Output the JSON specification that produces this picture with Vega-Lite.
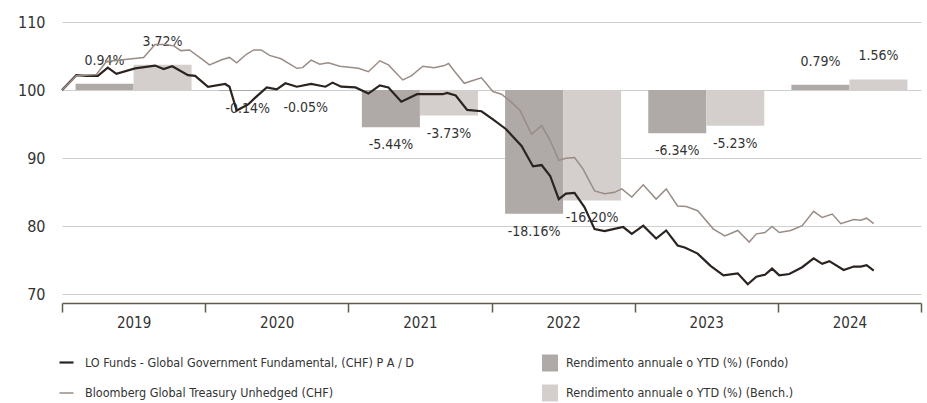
{
  "$schema": "https://vega.github.io/schema/vega-lite/v6.json",
  "width": 859,
  "height": 281,
  "autosize": {"type": "none"},
  "padding": {"left": 62, "top": 22, "right": 6, "bottom": 100},
  "background": "white",
  "config": {"view": {"stroke": null}, "font": "DejaVu Sans Condensed, Liberation Sans, sans-serif"},
  "datasets": {
    "bars": [
      {"year": "2019", "series": "Rendimento annuale o YTD (%) (Fondo)", "ret": 0.94, "label": "0.94%"},
      {"year": "2019", "series": "Rendimento annuale o YTD (%) (Bench.)", "ret": 3.72, "label": "3.72%"},
      {"year": "2020", "series": "Rendimento annuale o YTD (%) (Fondo)", "ret": -0.14, "label": "-0.14%"},
      {"year": "2020", "series": "Rendimento annuale o YTD (%) (Bench.)", "ret": -0.05, "label": "-0.05%"},
      {"year": "2021", "series": "Rendimento annuale o YTD (%) (Fondo)", "ret": -5.44, "label": "-5.44%"},
      {"year": "2021", "series": "Rendimento annuale o YTD (%) (Bench.)", "ret": -3.73, "label": "-3.73%"},
      {"year": "2022", "series": "Rendimento annuale o YTD (%) (Fondo)", "ret": -18.16, "label": "-18.16%"},
      {"year": "2022", "series": "Rendimento annuale o YTD (%) (Bench.)", "ret": -16.2, "label": "-16.20%"},
      {"year": "2023", "series": "Rendimento annuale o YTD (%) (Fondo)", "ret": -6.34, "label": "-6.34%"},
      {"year": "2023", "series": "Rendimento annuale o YTD (%) (Bench.)", "ret": -5.23, "label": "-5.23%"},
      {"year": "2024", "series": "Rendimento annuale o YTD (%) (Fondo)", "ret": 0.79, "label": "0.79%"},
      {"year": "2024", "series": "Rendimento annuale o YTD (%) (Bench.)", "ret": 1.56, "label": "1.56%"}
    ],
    "lines": [
      {"s": "LO Funds - Global Government Fundamental, (CHF) P A / D", "t": 2019.00, "v": 100.0},
      {"s": "LO Funds - Global Government Fundamental, (CHF) P A / D", "t": 2019.10, "v": 102.2},
      {"s": "LO Funds - Global Government Fundamental, (CHF) P A / D", "t": 2019.17, "v": 102.1},
      {"s": "LO Funds - Global Government Fundamental, (CHF) P A / D", "t": 2019.25, "v": 102.1},
      {"s": "LO Funds - Global Government Fundamental, (CHF) P A / D", "t": 2019.32, "v": 103.3},
      {"s": "LO Funds - Global Government Fundamental, (CHF) P A / D", "t": 2019.38, "v": 102.4},
      {"s": "LO Funds - Global Government Fundamental, (CHF) P A / D", "t": 2019.51, "v": 103.2},
      {"s": "LO Funds - Global Government Fundamental, (CHF) P A / D", "t": 2019.65, "v": 103.6},
      {"s": "LO Funds - Global Government Fundamental, (CHF) P A / D", "t": 2019.71, "v": 103.1},
      {"s": "LO Funds - Global Government Fundamental, (CHF) P A / D", "t": 2019.77, "v": 103.5},
      {"s": "LO Funds - Global Government Fundamental, (CHF) P A / D", "t": 2019.88, "v": 102.2},
      {"s": "LO Funds - Global Government Fundamental, (CHF) P A / D", "t": 2019.93, "v": 102.1},
      {"s": "LO Funds - Global Government Fundamental, (CHF) P A / D", "t": 2020.02, "v": 100.5},
      {"s": "LO Funds - Global Government Fundamental, (CHF) P A / D", "t": 2020.14, "v": 100.9},
      {"s": "LO Funds - Global Government Fundamental, (CHF) P A / D", "t": 2020.17, "v": 100.5},
      {"s": "LO Funds - Global Government Fundamental, (CHF) P A / D", "t": 2020.22, "v": 97.0},
      {"s": "LO Funds - Global Government Fundamental, (CHF) P A / D", "t": 2020.30, "v": 97.9},
      {"s": "LO Funds - Global Government Fundamental, (CHF) P A / D", "t": 2020.35, "v": 98.9},
      {"s": "LO Funds - Global Government Fundamental, (CHF) P A / D", "t": 2020.43, "v": 100.4},
      {"s": "LO Funds - Global Government Fundamental, (CHF) P A / D", "t": 2020.50, "v": 100.1},
      {"s": "LO Funds - Global Government Fundamental, (CHF) P A / D", "t": 2020.56, "v": 101.0},
      {"s": "LO Funds - Global Government Fundamental, (CHF) P A / D", "t": 2020.64, "v": 100.5},
      {"s": "LO Funds - Global Government Fundamental, (CHF) P A / D", "t": 2020.74, "v": 100.9},
      {"s": "LO Funds - Global Government Fundamental, (CHF) P A / D", "t": 2020.84, "v": 100.5},
      {"s": "LO Funds - Global Government Fundamental, (CHF) P A / D", "t": 2020.89, "v": 101.1},
      {"s": "LO Funds - Global Government Fundamental, (CHF) P A / D", "t": 2020.95, "v": 100.5},
      {"s": "LO Funds - Global Government Fundamental, (CHF) P A / D", "t": 2021.05, "v": 100.4},
      {"s": "LO Funds - Global Government Fundamental, (CHF) P A / D", "t": 2021.14, "v": 99.5},
      {"s": "LO Funds - Global Government Fundamental, (CHF) P A / D", "t": 2021.22, "v": 100.7},
      {"s": "LO Funds - Global Government Fundamental, (CHF) P A / D", "t": 2021.28, "v": 100.4},
      {"s": "LO Funds - Global Government Fundamental, (CHF) P A / D", "t": 2021.37, "v": 98.3},
      {"s": "LO Funds - Global Government Fundamental, (CHF) P A / D", "t": 2021.48, "v": 99.4},
      {"s": "LO Funds - Global Government Fundamental, (CHF) P A / D", "t": 2021.58, "v": 99.4},
      {"s": "LO Funds - Global Government Fundamental, (CHF) P A / D", "t": 2021.66, "v": 99.4},
      {"s": "LO Funds - Global Government Fundamental, (CHF) P A / D", "t": 2021.69, "v": 99.6},
      {"s": "LO Funds - Global Government Fundamental, (CHF) P A / D", "t": 2021.75, "v": 99.2},
      {"s": "LO Funds - Global Government Fundamental, (CHF) P A / D", "t": 2021.83, "v": 97.1},
      {"s": "LO Funds - Global Government Fundamental, (CHF) P A / D", "t": 2021.93, "v": 96.9},
      {"s": "LO Funds - Global Government Fundamental, (CHF) P A / D", "t": 2022.01, "v": 95.7},
      {"s": "LO Funds - Global Government Fundamental, (CHF) P A / D", "t": 2022.10, "v": 94.3},
      {"s": "LO Funds - Global Government Fundamental, (CHF) P A / D", "t": 2022.21, "v": 91.8},
      {"s": "LO Funds - Global Government Fundamental, (CHF) P A / D", "t": 2022.29, "v": 88.8},
      {"s": "LO Funds - Global Government Fundamental, (CHF) P A / D", "t": 2022.35, "v": 89.0},
      {"s": "LO Funds - Global Government Fundamental, (CHF) P A / D", "t": 2022.41, "v": 87.4},
      {"s": "LO Funds - Global Government Fundamental, (CHF) P A / D", "t": 2022.47, "v": 84.0},
      {"s": "LO Funds - Global Government Fundamental, (CHF) P A / D", "t": 2022.52, "v": 84.8},
      {"s": "LO Funds - Global Government Fundamental, (CHF) P A / D", "t": 2022.58, "v": 84.9},
      {"s": "LO Funds - Global Government Fundamental, (CHF) P A / D", "t": 2022.65, "v": 82.8},
      {"s": "LO Funds - Global Government Fundamental, (CHF) P A / D", "t": 2022.72, "v": 79.6},
      {"s": "LO Funds - Global Government Fundamental, (CHF) P A / D", "t": 2022.79, "v": 79.3},
      {"s": "LO Funds - Global Government Fundamental, (CHF) P A / D", "t": 2022.85, "v": 79.6},
      {"s": "LO Funds - Global Government Fundamental, (CHF) P A / D", "t": 2022.92, "v": 79.9},
      {"s": "LO Funds - Global Government Fundamental, (CHF) P A / D", "t": 2022.98, "v": 78.9},
      {"s": "LO Funds - Global Government Fundamental, (CHF) P A / D", "t": 2023.06, "v": 80.1},
      {"s": "LO Funds - Global Government Fundamental, (CHF) P A / D", "t": 2023.15, "v": 78.2},
      {"s": "LO Funds - Global Government Fundamental, (CHF) P A / D", "t": 2023.22, "v": 79.4},
      {"s": "LO Funds - Global Government Fundamental, (CHF) P A / D", "t": 2023.30, "v": 77.2},
      {"s": "LO Funds - Global Government Fundamental, (CHF) P A / D", "t": 2023.35, "v": 76.9},
      {"s": "LO Funds - Global Government Fundamental, (CHF) P A / D", "t": 2023.44, "v": 76.0},
      {"s": "LO Funds - Global Government Fundamental, (CHF) P A / D", "t": 2023.53, "v": 74.2},
      {"s": "LO Funds - Global Government Fundamental, (CHF) P A / D", "t": 2023.62, "v": 72.8},
      {"s": "LO Funds - Global Government Fundamental, (CHF) P A / D", "t": 2023.72, "v": 73.1},
      {"s": "LO Funds - Global Government Fundamental, (CHF) P A / D", "t": 2023.79, "v": 71.5},
      {"s": "LO Funds - Global Government Fundamental, (CHF) P A / D", "t": 2023.85, "v": 72.6},
      {"s": "LO Funds - Global Government Fundamental, (CHF) P A / D", "t": 2023.91, "v": 72.9},
      {"s": "LO Funds - Global Government Fundamental, (CHF) P A / D", "t": 2023.96, "v": 73.8},
      {"s": "LO Funds - Global Government Fundamental, (CHF) P A / D", "t": 2024.01, "v": 72.8},
      {"s": "LO Funds - Global Government Fundamental, (CHF) P A / D", "t": 2024.08, "v": 73.0},
      {"s": "LO Funds - Global Government Fundamental, (CHF) P A / D", "t": 2024.17, "v": 74.0},
      {"s": "LO Funds - Global Government Fundamental, (CHF) P A / D", "t": 2024.25, "v": 75.3},
      {"s": "LO Funds - Global Government Fundamental, (CHF) P A / D", "t": 2024.31, "v": 74.5},
      {"s": "LO Funds - Global Government Fundamental, (CHF) P A / D", "t": 2024.36, "v": 74.9},
      {"s": "LO Funds - Global Government Fundamental, (CHF) P A / D", "t": 2024.46, "v": 73.6},
      {"s": "LO Funds - Global Government Fundamental, (CHF) P A / D", "t": 2024.53, "v": 74.1},
      {"s": "LO Funds - Global Government Fundamental, (CHF) P A / D", "t": 2024.58, "v": 74.1},
      {"s": "LO Funds - Global Government Fundamental, (CHF) P A / D", "t": 2024.62, "v": 74.3},
      {"s": "LO Funds - Global Government Fundamental, (CHF) P A / D", "t": 2024.67, "v": 73.5},
      {"s": "Bloomberg Global Treasury Unhedged (CHF)", "t": 2019.00, "v": 100.0},
      {"s": "Bloomberg Global Treasury Unhedged (CHF)", "t": 2019.10, "v": 102.1},
      {"s": "Bloomberg Global Treasury Unhedged (CHF)", "t": 2019.24, "v": 102.3},
      {"s": "Bloomberg Global Treasury Unhedged (CHF)", "t": 2019.31, "v": 104.2},
      {"s": "Bloomberg Global Treasury Unhedged (CHF)", "t": 2019.44, "v": 104.5},
      {"s": "Bloomberg Global Treasury Unhedged (CHF)", "t": 2019.57, "v": 104.8},
      {"s": "Bloomberg Global Treasury Unhedged (CHF)", "t": 2019.65, "v": 106.7},
      {"s": "Bloomberg Global Treasury Unhedged (CHF)", "t": 2019.72, "v": 106.7},
      {"s": "Bloomberg Global Treasury Unhedged (CHF)", "t": 2019.78, "v": 106.5},
      {"s": "Bloomberg Global Treasury Unhedged (CHF)", "t": 2019.83, "v": 105.8},
      {"s": "Bloomberg Global Treasury Unhedged (CHF)", "t": 2019.89, "v": 105.9},
      {"s": "Bloomberg Global Treasury Unhedged (CHF)", "t": 2019.98, "v": 104.5},
      {"s": "Bloomberg Global Treasury Unhedged (CHF)", "t": 2020.03, "v": 103.7},
      {"s": "Bloomberg Global Treasury Unhedged (CHF)", "t": 2020.12, "v": 104.5},
      {"s": "Bloomberg Global Treasury Unhedged (CHF)", "t": 2020.17, "v": 104.8},
      {"s": "Bloomberg Global Treasury Unhedged (CHF)", "t": 2020.22, "v": 104.0},
      {"s": "Bloomberg Global Treasury Unhedged (CHF)", "t": 2020.29, "v": 105.3},
      {"s": "Bloomberg Global Treasury Unhedged (CHF)", "t": 2020.34, "v": 105.9},
      {"s": "Bloomberg Global Treasury Unhedged (CHF)", "t": 2020.39, "v": 105.9},
      {"s": "Bloomberg Global Treasury Unhedged (CHF)", "t": 2020.45, "v": 105.1},
      {"s": "Bloomberg Global Treasury Unhedged (CHF)", "t": 2020.53, "v": 104.6},
      {"s": "Bloomberg Global Treasury Unhedged (CHF)", "t": 2020.64, "v": 103.2},
      {"s": "Bloomberg Global Treasury Unhedged (CHF)", "t": 2020.68, "v": 103.3},
      {"s": "Bloomberg Global Treasury Unhedged (CHF)", "t": 2020.74, "v": 104.4},
      {"s": "Bloomberg Global Treasury Unhedged (CHF)", "t": 2020.80, "v": 103.8},
      {"s": "Bloomberg Global Treasury Unhedged (CHF)", "t": 2020.86, "v": 104.0},
      {"s": "Bloomberg Global Treasury Unhedged (CHF)", "t": 2020.94, "v": 103.5},
      {"s": "Bloomberg Global Treasury Unhedged (CHF)", "t": 2021.07, "v": 103.2},
      {"s": "Bloomberg Global Treasury Unhedged (CHF)", "t": 2021.14, "v": 102.7},
      {"s": "Bloomberg Global Treasury Unhedged (CHF)", "t": 2021.22, "v": 104.3},
      {"s": "Bloomberg Global Treasury Unhedged (CHF)", "t": 2021.28, "v": 103.7},
      {"s": "Bloomberg Global Treasury Unhedged (CHF)", "t": 2021.38, "v": 101.5},
      {"s": "Bloomberg Global Treasury Unhedged (CHF)", "t": 2021.44, "v": 102.1},
      {"s": "Bloomberg Global Treasury Unhedged (CHF)", "t": 2021.52, "v": 103.5},
      {"s": "Bloomberg Global Treasury Unhedged (CHF)", "t": 2021.60, "v": 103.3},
      {"s": "Bloomberg Global Treasury Unhedged (CHF)", "t": 2021.67, "v": 103.6},
      {"s": "Bloomberg Global Treasury Unhedged (CHF)", "t": 2021.70, "v": 103.9},
      {"s": "Bloomberg Global Treasury Unhedged (CHF)", "t": 2021.74, "v": 102.8},
      {"s": "Bloomberg Global Treasury Unhedged (CHF)", "t": 2021.81, "v": 101.0},
      {"s": "Bloomberg Global Treasury Unhedged (CHF)", "t": 2021.87, "v": 101.4},
      {"s": "Bloomberg Global Treasury Unhedged (CHF)", "t": 2021.93, "v": 101.8},
      {"s": "Bloomberg Global Treasury Unhedged (CHF)", "t": 2022.01, "v": 99.8},
      {"s": "Bloomberg Global Treasury Unhedged (CHF)", "t": 2022.07, "v": 99.4},
      {"s": "Bloomberg Global Treasury Unhedged (CHF)", "t": 2022.14, "v": 98.2},
      {"s": "Bloomberg Global Treasury Unhedged (CHF)", "t": 2022.20, "v": 97.0},
      {"s": "Bloomberg Global Treasury Unhedged (CHF)", "t": 2022.28, "v": 93.5},
      {"s": "Bloomberg Global Treasury Unhedged (CHF)", "t": 2022.35, "v": 94.8},
      {"s": "Bloomberg Global Treasury Unhedged (CHF)", "t": 2022.41, "v": 92.6},
      {"s": "Bloomberg Global Treasury Unhedged (CHF)", "t": 2022.47, "v": 89.7},
      {"s": "Bloomberg Global Treasury Unhedged (CHF)", "t": 2022.52, "v": 90.0},
      {"s": "Bloomberg Global Treasury Unhedged (CHF)", "t": 2022.58, "v": 90.1},
      {"s": "Bloomberg Global Treasury Unhedged (CHF)", "t": 2022.64, "v": 88.4},
      {"s": "Bloomberg Global Treasury Unhedged (CHF)", "t": 2022.72, "v": 85.2},
      {"s": "Bloomberg Global Treasury Unhedged (CHF)", "t": 2022.79, "v": 84.8},
      {"s": "Bloomberg Global Treasury Unhedged (CHF)", "t": 2022.86, "v": 85.0},
      {"s": "Bloomberg Global Treasury Unhedged (CHF)", "t": 2022.91, "v": 85.5},
      {"s": "Bloomberg Global Treasury Unhedged (CHF)", "t": 2022.98, "v": 84.3},
      {"s": "Bloomberg Global Treasury Unhedged (CHF)", "t": 2023.06, "v": 86.1},
      {"s": "Bloomberg Global Treasury Unhedged (CHF)", "t": 2023.15, "v": 84.0},
      {"s": "Bloomberg Global Treasury Unhedged (CHF)", "t": 2023.22, "v": 85.5},
      {"s": "Bloomberg Global Treasury Unhedged (CHF)", "t": 2023.30, "v": 83.0},
      {"s": "Bloomberg Global Treasury Unhedged (CHF)", "t": 2023.36, "v": 82.9},
      {"s": "Bloomberg Global Treasury Unhedged (CHF)", "t": 2023.44, "v": 82.3},
      {"s": "Bloomberg Global Treasury Unhedged (CHF)", "t": 2023.55, "v": 79.6},
      {"s": "Bloomberg Global Treasury Unhedged (CHF)", "t": 2023.63, "v": 78.6},
      {"s": "Bloomberg Global Treasury Unhedged (CHF)", "t": 2023.72, "v": 79.4},
      {"s": "Bloomberg Global Treasury Unhedged (CHF)", "t": 2023.80, "v": 77.7},
      {"s": "Bloomberg Global Treasury Unhedged (CHF)", "t": 2023.85, "v": 78.9},
      {"s": "Bloomberg Global Treasury Unhedged (CHF)", "t": 2023.91, "v": 79.1},
      {"s": "Bloomberg Global Treasury Unhedged (CHF)", "t": 2023.96, "v": 80.0},
      {"s": "Bloomberg Global Treasury Unhedged (CHF)", "t": 2024.01, "v": 79.1},
      {"s": "Bloomberg Global Treasury Unhedged (CHF)", "t": 2024.09, "v": 79.4},
      {"s": "Bloomberg Global Treasury Unhedged (CHF)", "t": 2024.17, "v": 80.1},
      {"s": "Bloomberg Global Treasury Unhedged (CHF)", "t": 2024.25, "v": 82.2},
      {"s": "Bloomberg Global Treasury Unhedged (CHF)", "t": 2024.31, "v": 81.3},
      {"s": "Bloomberg Global Treasury Unhedged (CHF)", "t": 2024.38, "v": 81.8},
      {"s": "Bloomberg Global Treasury Unhedged (CHF)", "t": 2024.44, "v": 80.4},
      {"s": "Bloomberg Global Treasury Unhedged (CHF)", "t": 2024.53, "v": 81.0},
      {"s": "Bloomberg Global Treasury Unhedged (CHF)", "t": 2024.58, "v": 80.9},
      {"s": "Bloomberg Global Treasury Unhedged (CHF)", "t": 2024.62, "v": 81.2},
      {"s": "Bloomberg Global Treasury Unhedged (CHF)", "t": 2024.67, "v": 80.4}
    ]
  },
  "layer": [
    {
      "data": {"name": "bars"},
      "encoding": {
        "x": {
          "field": "year", "type": "nominal",
          "scale": {"domain": ["2019", "2020", "2021", "2022", "2023", "2024"], "paddingInner": 0, "paddingOuter": 0},
          "axis": {
            "orient": "bottom", "title": null, "labelAngle": 0,
            "domainColor": "#5f5d4a", "domainWidth": 1.5,
            "tickColor": "#5f5d4a", "tickWidth": 1.5, "tickSize": 9, "tickBand": "extent",
            "labelFontSize": 15, "labelColor": "#333333", "labelPadding": 3
          }
        },
        "xOffset": {
          "field": "series", "type": "nominal",
          "scale": {"domain": ["Rendimento annuale o YTD (%) (Fondo)", "Rendimento annuale o YTD (%) (Bench.)"], "paddingInner": 0, "paddingOuter": 0.234}
        },
        "y": {
          "field": "ret", "type": "quantitative",
          "scale": {"domain": [-31.25, 10], "nice": false, "zero": false},
          "axis": null
        }
      },
      "layer": [
        {
          "mark": {"type": "bar"},
          "encoding": {
            "y2": {"datum": 0},
            "fill": {
              "field": "series", "type": "nominal",
              "scale": {"domain": ["Rendimento annuale o YTD (%) (Fondo)", "Rendimento annuale o YTD (%) (Bench.)"], "range": ["#afaaa8", "#d4cfcc"]},
              "legend": {
                "title": null, "orient": "none", "legendX": 478, "legendY": 331,
                "symbolType": "M-0.8,-0.85H0.8V0.85H-0.8Z", "symbolSize": 400, "symbolStrokeWidth": 0,
                "labelFontSize": 12.5, "labelColor": "#333333", "labelLimit": 400,
                "rowPadding": 11, "labelOffset": 6
              }
            }
          }
        },
        {
          "transform": [{"filter": "datum.ret > 0"}],
          "mark": {"type": "text", "dy": -23, "fontSize": 14, "color": "#333333", "baseline": "middle"},
          "encoding": {"text": {"field": "label"}}
        },
        {
          "transform": [{"filter": "datum.ret < 0"}],
          "mark": {"type": "text", "dy": 18, "fontSize": 14, "color": "#333333", "baseline": "middle"},
          "encoding": {"text": {"field": "label"}}
        }
      ]
    },
    {
      "data": {"name": "lines"},
      "mark": {"type": "line", "interpolate": "linear"},
      "encoding": {
        "x": {"field": "t", "type": "quantitative", "scale": {"domain": [2019, 2025], "nice": false, "zero": false}, "axis": null},
        "y": {
          "field": "v", "type": "quantitative",
          "scale": {"domain": [68.75, 110], "nice": false, "zero": false},
          "axis": {
            "orient": "left", "title": null, "values": [70, 80, 90, 100, 110],
            "grid": true, "gridColor": "#cfcfcf", "gridWidth": 1.2,
            "domain": false, "ticks": false,
            "labelFontSize": 16, "labelColor": "#333333", "labelPadding": 17
          }
        },
        "stroke": {
          "field": "s", "type": "nominal",
          "scale": {"domain": ["LO Funds - Global Government Fundamental, (CHF) P A / D", "Bloomberg Global Treasury Unhedged (CHF)"], "range": ["#2b2320", "#9a8c85"]},
          "legend": {
            "title": null, "orient": "none", "legendX": -4, "legendY": 332,
            "symbolType": "stroke", "symbolSize": 196, "symbolStrokeWidth": 3,
            "labelFontSize": 12.5, "labelColor": "#333333", "labelLimit": 400,
            "rowPadding": 16, "labelOffset": 10
          }
        },
        "strokeWidth": {
          "field": "s", "type": "nominal",
          "scale": {"domain": ["LO Funds - Global Government Fundamental, (CHF) P A / D", "Bloomberg Global Treasury Unhedged (CHF)"], "range": [2.2, 1.5]},
          "legend": null
        }
      }
    }
  ],
  "resolve": {"scale": {"x": "independent", "y": "independent"}}
}
